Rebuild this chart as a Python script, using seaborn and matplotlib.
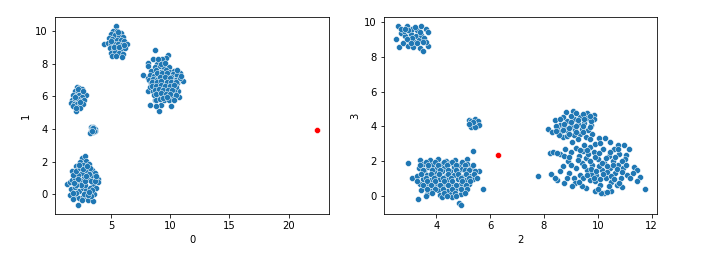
import matplotlib
matplotlib.use("Agg")
import matplotlib.pyplot as plt
import seaborn as sns
import pandas as pd

# ---------------- left panel (features 0 vs 1) ----------------
left_a = [(2.55, 2.2), (2.8, 2.35), (2.35, 2.0), (2.9, 2.05), (3.1, 1.85), (2.0, 1.75), (2.2, 1.55),
          (2.6, 1.8), (1.65, 1.45), (3.4, 1.5), (3.6, 1.3), (3.3, 1.15), (3.85, 0.95), (3.9, 0.75),
          (1.3, 0.65), (1.5, 0.75), (1.7, 0.9), (1.9, 1.0), (2.1, 0.7), (2.4, 0.9), (2.7, 1.1),
          (3.0, 0.95), (3.5, 0.6), (3.7, 0.4), (1.6, 0.35), (1.9, 0.45), (2.3, 0.2), (2.6, 0.4),
          (2.9, 0.3), (3.2, 0.4), (3.55, 0.05), (1.55, -0.05), (1.95, -0.1), (2.3, -0.2),
          (2.65, -0.15), (3.0, -0.35), (3.5, -0.4), (2.2, -0.65), (2.0, 0.1), (2.8, 0.6), (3.3, 0.8),
          (2.5, 1.3), (2.9, 1.5), (2.2, 1.2), (3.1, 1.25), (1.8, 1.2), (2.0, 1.45), (2.7, 0.0),
          (3.3, -0.1), (3.0, -0.05), (2.45, 0.55), (2.15, 0.95), (2.75, 0.8), (3.4, 0.3), (1.75, 0.1),
          (2.4, 1.6), (3.2, 1.6), (2.6, 1.55), (2.85, 1.15), (3.65, 0.85), (2.05, 0.6), (1.85, 0.7),
          (3.15, 0.15), (2.55, -0.35), (1.8, -0.3), (3.75, 1.1), (2.3, 1.8), (2.95, 1.75)]
left_b = [(2.1, 6.55), (2.3, 6.5), (2.5, 6.45), (1.95, 6.35), (2.2, 6.3), (2.45, 6.2), (2.65, 6.1),
          (2.85, 6.05), (1.8, 6.1), (2.0, 6.0), (2.3, 6.05), (2.55, 5.95), (1.7, 5.8), (1.95, 5.75),
          (2.2, 5.85), (2.45, 5.7), (2.7, 5.8), (1.6, 5.6), (1.85, 5.55), (2.1, 5.5), (2.35, 5.45),
          (2.6, 5.55), (1.75, 5.4), (2.4, 5.3), (2.0, 5.1), (2.15, 6.45), (2.6, 6.3), (1.9, 5.95),
          (2.35, 5.65), (2.05, 5.3)]
left_c = [(3.3, 4.1), (3.5, 4.15), (3.6, 4.0), (3.4, 3.95), (3.25, 3.85), (3.45, 3.8), (3.65, 3.85),
          (3.35, 4.05), (3.55, 3.9), (3.2, 3.75), (3.5, 4.05), (3.4, 3.85)]
left_d = [(5.4, 10.3), (5.15, 10.0), (5.5, 10.0), (5.8, 9.85), (5.0, 9.8), (5.3, 9.75), (5.65, 9.7),
          (6.0, 9.6), (4.8, 9.55), (5.1, 9.5), (5.45, 9.45), (5.8, 9.45), (6.1, 9.4), (4.4, 9.2),
          (4.7, 9.25), (5.0, 9.2), (5.3, 9.2), (5.6, 9.2), (5.9, 9.15), (6.35, 9.2), (4.9, 8.95),
          (5.2, 8.9), (5.5, 8.95), (5.8, 8.9), (6.15, 8.95), (5.0, 8.65), (5.35, 8.7), (5.65, 8.65),
          (6.0, 8.6), (5.1, 8.45), (5.4, 8.45), (5.9, 8.4), (5.25, 9.0), (5.7, 9.0), (5.6, 9.95),
          (4.95, 9.35), (6.05, 9.15)]
left_e = [(8.7, 8.85), (9.8, 8.55), (8.1, 8.05), (8.5, 8.3), (8.9, 8.0), (9.6, 8.35), (9.3, 8.25),
          (8.15, 7.85), (7.7, 7.3), (8.1, 6.35), (8.3, 5.45), (8.1, 7.1), (11.1, 6.95), (10.85, 7.45),
          (10.7, 7.2), (10.65, 6.3), (10.7, 5.95), (9.05, 5.1), (9.2, 5.45), (10.05, 5.4), (8.8, 5.4),
          (9.5, 5.75), (8.7, 5.8), (8.7, 7.8), (9.1, 7.85), (9.5, 7.75), (9.9, 7.8), (8.4, 7.55),
          (8.8, 7.6), (9.2, 7.5), (9.6, 7.6), (10.0, 7.5), (10.35, 7.55), (8.3, 7.3), (8.65, 7.25),
          (9.0, 7.35), (9.4, 7.3), (9.8, 7.25), (10.2, 7.35), (10.55, 7.3), (8.2, 7.0), (8.55, 7.05),
          (8.9, 7.0), (9.3, 7.1), (9.65, 7.0), (10.05, 7.05), (10.4, 7.0), (10.8, 7.1), (8.35, 6.8),
          (8.7, 6.75), (9.1, 6.85), (9.5, 6.8), (9.85, 6.75), (10.25, 6.85), (10.6, 6.8), (8.25, 6.55),
          (8.6, 6.5), (9.0, 6.6), (9.35, 6.55), (9.75, 6.5), (10.1, 6.6), (10.45, 6.55), (8.5, 6.3),
          (8.85, 6.25), (9.2, 6.35), (9.6, 6.3), (9.95, 6.25), (10.35, 6.3), (8.6, 6.05), (9.0, 6.0),
          (9.4, 6.1), (9.8, 6.05), (10.15, 6.0), (10.5, 6.1), (8.75, 5.8), (9.15, 5.85), (9.9, 5.8),
          (10.3, 5.75), (8.9, 7.45), (9.3, 7.45), (9.7, 7.45), (10.1, 7.2), (9.15, 7.2), (9.55, 7.15),
          (9.95, 7.1), (8.45, 6.9), (8.85, 6.9), (9.25, 6.95), (9.7, 6.9), (10.05, 6.9), (10.45, 6.9),
          (8.45, 6.65), (8.8, 6.6), (9.2, 6.7), (9.55, 6.65), (9.95, 6.65), (10.3, 6.7), (8.7, 6.4),
          (9.05, 6.45), (9.4, 6.4), (9.8, 6.4), (10.15, 6.4), (8.8, 6.15), (9.2, 6.2), (9.6, 6.15),
          (10.0, 6.15), (9.35, 5.9), (9.7, 5.95), (10.6, 7.6), (10.9, 7.25), (8.95, 8.3), (9.2, 8.0),
          (9.55, 8.05)]
left_outlier = [(22.37, 3.93)]

# ---------------- right panel (features 2 vs 3) ----------------
right_p = [(2.5, 9.03), (2.56, 9.77), (2.6, 8.61), (2.68, 9.4), (2.75, 8.8), (2.85, 9.2), (2.8, 9.5),
           (2.9, 9.8), (2.95, 8.65), (3.0, 9.0), (3.05, 9.35), (3.1, 9.65), (3.15, 8.6), (3.2, 8.9),
           (3.25, 9.2), (3.3, 9.55), (3.35, 9.0), (3.44, 9.8), (3.4, 8.53), (3.45, 9.3), (3.5, 8.34),
           (3.55, 9.1), (3.6, 9.6), (3.68, 8.67), (3.7, 9.46), (3.1, 9.1), (2.95, 9.55), (3.3, 8.8),
           (3.6, 8.9), (3.2, 9.75), (2.7, 9.65), (2.9, 9.05), (3.05, 8.8), (3.4, 9.45), (3.5, 8.85),
           (2.85, 9.65)]
right_q = [(2.95, 1.91), (3.1, 1.03), (3.32, -0.17), (5.72, 0.39), (5.38, 2.59), (4.84, -0.41),
           (4.92, -0.54), (5.57, 1.43), (5.15, 2.11),
           (3.4, 2.05), (3.75, 2.05), (4.05, 2.1), (4.35, 2.0), (4.7, 2.05),
           (3.5, 1.85), (3.85, 1.8), (4.2, 1.85), (4.5, 1.9), (4.85, 1.8), (5.15, 1.85),
           (3.35, 1.6), (3.7, 1.65), (4.0, 1.55), (4.3, 1.6), (4.65, 1.65), (4.95, 1.55), (5.3, 1.6),
           (3.55, 1.4), (3.9, 1.35), (4.2, 1.45), (4.5, 1.4), (4.8, 1.35), (5.1, 1.4), (5.45, 1.4),
           (3.3, 1.15), (3.65, 1.2), (4.0, 1.1), (4.35, 1.15), (4.65, 1.2), (4.95, 1.1), (5.25, 1.15),
           (3.5, 0.95), (3.8, 0.9), (4.15, 0.95), (4.45, 0.9), (4.8, 0.95), (5.1, 0.9), (5.35, 0.95),
           (3.4, 0.7), (3.7, 0.75), (4.0, 0.65), (4.3, 0.7), (4.6, 0.75), (4.9, 0.65), (5.2, 0.7),
           (3.55, 0.5), (3.9, 0.45), (4.2, 0.5), (4.5, 0.55), (4.8, 0.45), (5.05, 0.5),
           (3.45, 0.3), (3.75, 0.25), (4.05, 0.3), (4.4, 0.25), (4.7, 0.3), (5.0, 0.25),
           (3.65, 0.1), (4.15, 0.05), (4.55, 0.1), (4.9, 0.1), (4.2, -0.1), (4.6, -0.05),
           (3.6, 1.95), (3.95, 1.95), (4.3, 1.95), (4.6, 1.95), (4.95, 1.95),
           (3.4, 1.75), (3.7, 1.75), (4.05, 1.75), (4.4, 1.75), (4.75, 1.75), (5.05, 1.75), (5.35, 1.75),
           (3.5, 1.5), (3.85, 1.5), (4.15, 1.5), (4.45, 1.5), (4.75, 1.5), (5.05, 1.5), (5.2, 1.5),
           (3.45, 1.27), (3.8, 1.27), (4.1, 1.27), (4.45, 1.27), (4.8, 1.27), (5.1, 1.27), (5.4, 1.27),
           (3.6, 1.05), (3.9, 1.05), (4.25, 1.05), (4.55, 1.05), (4.9, 1.05), (5.2, 1.05), (5.5, 1.05),
           (3.3, 0.82), (3.65, 0.82), (3.95, 0.82), (4.3, 0.82), (4.6, 0.82), (4.95, 0.82), (5.25, 0.82),
           (3.5, 0.6), (3.8, 0.6), (4.15, 0.6), (4.45, 0.6), (4.75, 0.6), (5.1, 0.6),
           (3.65, 0.4), (3.95, 0.4), (4.25, 0.4), (4.6, 0.4), (4.9, 0.4), (5.15, 0.4),
           (3.85, 0.18), (4.3, 0.18), (4.7, 0.18), (5.05, 0.18), (3.6, 0.0), (4.4, 0.0), (4.75, 0.0)]
right_r = [(5.2, 4.35), (5.3, 4.3), (5.45, 4.4), (5.55, 4.3), (5.25, 4.1), (5.4, 4.15), (5.5, 4.05),
           (5.6, 4.1), (5.3, 3.95), (5.45, 3.95), (5.35, 4.25), (5.2, 4.15)]
right_s = [(8.15, 3.85), (8.4, 4.35), (8.83, 4.82), (9.08, 4.91), (9.61, 4.78), (9.87, 4.65), (8.71, 3.37),
           (9.79, 3.58), (9.04, 3.08), (8.3, 3.7), (8.6, 4.1), (8.85, 4.3), (9.1, 4.45), (9.35, 4.55),
           (9.6, 4.5), (9.85, 4.4), (8.5, 3.9), (8.75, 3.95), (9.0, 4.05), (9.25, 4.15), (9.5, 4.2),
           (9.75, 4.1), (8.6, 3.65), (8.9, 3.7), (9.15, 3.8), (9.4, 3.85), (9.65, 3.8), (8.85, 3.45),
           (9.1, 3.5), (9.35, 3.55), (9.55, 3.4), (9.25, 3.25), (8.55, 3.5), (9.0, 4.6), (9.45, 4.7),
           (8.7, 4.55), (8.45, 4.05), (8.45, 3.75), (8.7, 3.8), (8.95, 3.9), (9.2, 4.0), (9.45, 4.0),
           (9.7, 3.95), (8.75, 4.15), (9.0, 4.25), (9.25, 4.35), (9.5, 4.4), (9.75, 4.3), (8.6, 4.4),
           (9.2, 4.75), (9.7, 4.6), (8.95, 3.55), (9.2, 3.65), (9.45, 3.7), (9.7, 3.3)]
right_t = [(7.77, 1.14), (8.28, 1.26), (8.24, 2.44), (8.35, 2.5), (8.49, 0.91), (8.76, 0.72), (10.03, 3.35),
           (10.26, 3.33), (10.47, 3.12), (10.77, 2.9), (10.96, 2.9), (11.15, 2.69), (11.06, 2.36),
           (11.34, 1.64), (11.47, 1.49), (11.56, 1.1), (11.47, 0.87), (11.3, 1.3), (10.9, 0.5),
           (10.49, 0.29), (10.25, 0.14), (10.12, 0.14), (9.89, 0.27), (9.58, 0.43), (9.4, 0.55),
           (11.74, 0.37), (8.6, 2.4), (8.7, 1.7), (8.6, 1.4), (8.9, 2.0), (8.95, 1.3), (9.1, 1.0),
           (9.0, 2.5), (9.3, 2.3), (9.2, 2.75), (9.5, 2.9), (9.7, 2.8), (9.9, 3.0), (9.2, 1.6),
           (9.4, 1.9), (9.35, 1.2), (9.6, 1.5), (9.55, 2.2), (9.7, 0.9), (9.8, 1.8), (9.85, 2.5),
           (9.95, 1.2), (10.0, 2.1), (10.1, 0.6), (10.15, 1.5), (10.2, 2.7), (10.25, 1.9), (10.3, 1.0),
           (10.4, 2.3), (10.45, 1.6), (10.5, 0.8), (10.55, 2.0), (10.6, 2.7), (10.65, 1.3), (10.75, 1.8),
           (10.8, 2.4), (10.85, 1.0), (10.95, 1.6), (11.0, 2.1), (11.1, 1.2), (9.75, 1.25), (10.05, 1.7),
           (10.35, 1.35), (9.9, 0.85), (10.7, 0.6), (9.45, 2.6), (8.8, 2.7), (9.15, 0.75),
           (9.25, 2.05), (9.5, 1.7), (9.45, 1.0), (9.65, 2.4), (9.7, 2.0), (9.75, 1.55), (9.85, 1.05),
           (9.9, 2.25), (9.95, 1.45), (10.05, 2.45), (10.1, 0.95), (10.15, 1.9), (10.2, 1.25),
           (10.3, 2.15), (10.35, 1.7), (10.4, 0.55), (10.45, 2.55), (10.5, 1.15), (10.55, 1.8),
           (10.6, 0.95), (10.65, 2.25), (10.7, 1.55), (10.9, 2.0), (10.9, 1.35), (11.05, 1.8),
           (9.0, 1.75), (9.05, 0.55), (8.85, 1.0), (9.3, 0.8), (10.0, 0.4), (10.35, 0.2), (10.8, 0.75),
           (11.2, 1.0), (10.75, 2.7), (10.1, 3.05), (9.6, 2.65), (9.35, 2.65), (8.4, 1.0), (8.5, 2.45),
           (9.6, 1.2), (8.75, 2.3), (8.95, 2.25)]
right_outlier = [(6.28, 2.34)]

left_labels = ("0", "1")
right_labels = ("2", "3")

blue = "#1f77b4"
red = "red"

left_df = pd.DataFrame(left_a + left_b + left_c + left_d + left_e, columns=["x", "y"])
left_out = pd.DataFrame(left_outlier, columns=["x", "y"])
right_df = pd.DataFrame(right_p + right_q + right_r + right_s + right_t, columns=["x", "y"])
right_out = pd.DataFrame(right_outlier, columns=["x", "y"])

W, H = 726, 268
fig = plt.figure(figsize=(W / 72, H / 72), dpi=72)
ax1 = fig.add_axes([55 / W, (H - 214) / H, (329 - 55) / W, (214 - 17) / H])
ax2 = fig.add_axes([383.5 / W, (H - 214) / H, (657 - 383.5) / W, (214 - 17) / H])

sns.scatterplot(data=left_df, x="x", y="y", color=blue, ax=ax1)
sns.scatterplot(data=left_out, x="x", y="y", color=red, ax=ax1)
ax1.set_xlabel(left_labels[0])
ax1.set_ylabel(left_labels[1])

sns.scatterplot(data=right_df, x="x", y="y", color=blue, ax=ax2)
sns.scatterplot(data=right_out, x="x", y="y", color=red, ax=ax2)
ax2.set_xlabel(right_labels[0])
ax2.set_ylabel(right_labels[1])

fig.savefig("out.png", dpi=72)
